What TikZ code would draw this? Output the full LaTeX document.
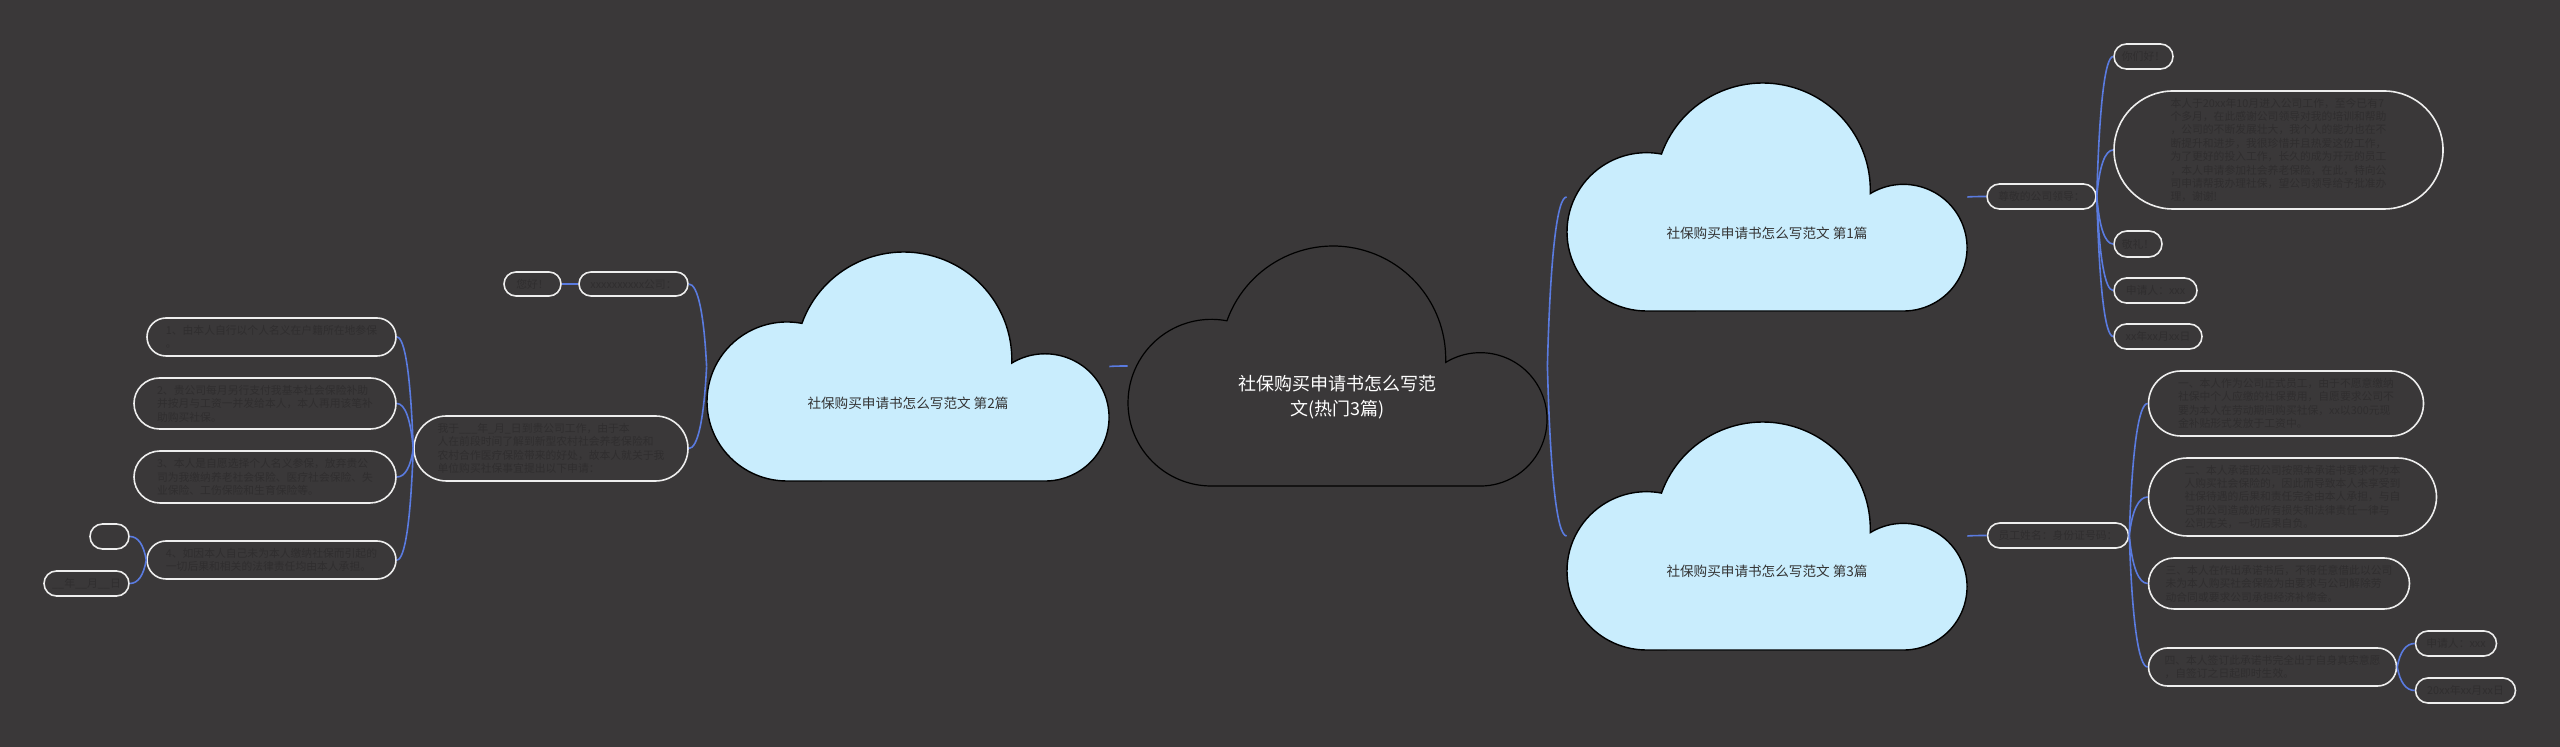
\documentclass[tikz,border=0pt]{standalone}
\usepackage{fontspec}
\setmainfont{Noto Sans CJK SC}
\usetikzlibrary{calc}
\definecolor{bg}{HTML}{3A3839}
\definecolor{cloudfill}{HTML}{C9EDFD}
\definecolor{branchc}{HTML}{5A7BE0}
\definecolor{faint}{HTML}{302E2F}
\definecolor{cloudtext}{HTML}{333333}
\definecolor{pillline}{HTML}{EEEEEE}
\newcommand{\pillfont}{\fontsize{5.4pt}{6.7pt}\selectfont}
\newcommand{\cloudfont}{\fontsize{6.8pt}{8pt}\selectfont}
\newcommand{\centerfont}{\fontsize{9pt}{12.5pt}\selectfont}
\newcommand{\cloudshape}[5]{%
  \pgfmathsetmacro{\cxs}{#3/1.7458}%
  \begin{scope}[shift={(#1,#2+#4)}, xscale=\cxs, yscale=-#4]
    \path[#5] (0.3472,0) arc[start angle=270, end angle=79.2, radius=0.3472]
      arc[start angle=160.36, end angle=-1.92, radius=0.4694]
      arc[start angle=121.4, end angle=-90, radius=0.2778] -- cycle;
  \end{scope}%
}
\newcommand{\branch}[2]{%
  \draw[branchline] let \p1=(#1), \p2=(#2) in (\p1) .. controls ({0.85*\x1+0.15*\x2},{0.35*\y1+0.65*\y2}) and ({0.5*\x1+0.5*\x2},\y2) .. (\p2);%
}
\tikzset{
  branchline/.style={draw=branchc, line width=0.8pt},
  pill/.style n args={2}{draw=pillline, line width=0.8pt, fill=bg, text=faint,
    minimum width=#1*0.5pt, minimum height=#2*0.5pt, rounded corners=#2*0.25pt,
    inner sep=0pt, font=\pillfont, align=left},
  cloudbox/.style n args={2}{minimum width=#1*0.5pt, minimum height=#2*0.5pt, inner sep=0pt},
  cloudlabel/.style={text=cloudtext, font=\cloudfont, inner sep=0pt},
  centertext/.style={text=white, font=\centerfont, align=center, inner sep=0pt},
  lightcloud/.style={fill=cloudfill, draw=black, line width=0.7pt},
  darkcloud/.style={fill=bg, draw=black, line width=0.6pt},
}
\begin{document}
\begin{tikzpicture}[x=0.5pt, y=-0.5pt]
\fill[bg] (0,0) rectangle (2560,747);
\useasboundingbox (0,0) rectangle (2560,747);

% clouds
\cloudshape{1128}{246}{419}{240}{darkcloud}
\node[cloudbox={419}{240}] (c0) at (1337.5,366) {};
\node[centertext] (c0t) at (1337.5,397) {社保购买申请书怎么写范\\文(热门3篇)};

\cloudshape{1567}{83}{400}{228}{lightcloud}
\node[cloudbox={400}{228}] (c1) at (1767,197) {};
\node[cloudlabel] (c1t) at (1767,233) {社保购买申请书怎么写范文 第1篇};

\cloudshape{707}{252}{402}{229}{lightcloud}
\node[cloudbox={402}{229}] (c2) at (908,366.5) {};
\node[cloudlabel] (c2t) at (908,403) {社保购买申请书怎么写范文 第2篇};

\cloudshape{1567}{422}{400}{228}{lightcloud}
\node[cloudbox={400}{228}] (c3) at (1767,536) {};
\node[cloudlabel] (c3t) at (1767,571) {社保购买申请书怎么写范文 第3篇};

% right top group
\node[pill={109}{25}] (p1) at (2041.5,196.5) {尊敬的公司领导：};
\node[pill={59}{25}] (p1a) at (2143.5,56.5) {你们好！};
\node[pill={329}{118}] (p1b) at (2278.5,150) {本人于20xx年10月进入公司工作，至今已有7\\个多月，在此感谢公司领导对我的培训和帮助\\，公司的不断发展壮大，我个人的能力也在不\\断提升和进步，我很珍惜并且热爱这份工作，\\为了更好的投入工作，长久的成为开元的员工\\，本人申请参加社会养老保险，在此，特向公\\司申请帮我办理社保，望公司领导给予批准办\\理，谢谢!};
\node[pill={48}{26}] (p1c) at (2138,244) {敬礼！};
\node[pill={83}{25}] (p1d) at (2155.5,290.5) {申请人：xxx};
\node[pill={88}{25}] (p1e) at (2158,336.5) {xx年xx月xx日};

% right bottom group
\node[pill={141}{25}] (p3) at (2058,535.5) {员工姓名：身份证号码：};
\node[pill={275}{65}] (p3a) at (2286,403.5) {一、本人作为公司正式员工，由于不愿意缴纳\\社保中个人应缴的社保费用，自愿要求公司不\\要为本人在劳动期间购买社保，xx以300元现\\金补贴形式发放于工资中。};
\node[pill={288}{78}] (p3b) at (2292.5,497) {二、本人承诺因公司按照本承诺书要求不为本\\人购买社会保险的，因此而导致本人未享受到\\社保待遇的后果和责任完全由本人承担，与自\\己和公司造成的所有损失和法律责任一律与\\公司无关，一切后果自负。};
\node[pill={261}{51}] (p3c) at (2279,583.5) {三、本人在作出承诺书后，不得任意借此以公司\\未为本人购买社会保险为由要求与公司解除劳\\动合同或要求公司承担经济补偿金。};
\node[pill={248}{38}] (p3d) at (2272.5,667) {四、本人签订此承诺书完全出于自身真实意愿\\，自签订之日起即时生效。};
\node[pill={81}{25}] (p3e) at (2456,643.5) {申请人：xxx};
\node[pill={100}{25}] (p3f) at (2465.5,690.5) {20xx年xx月xx日};

% left group
\node[pill={109}{24}] (p2a) at (633.5,284) {xxxxxxxxxx公司：};
\node[pill={57}{24}] (p2b) at (532.5,284) {您好！};
\node[pill={274}{65}] (p2c) at (551,448.5) {我于\_\_\_年\_月\_日到贵公司工作，由于本\\人在前段时间了解到新型农村社会养老保险和\\农村合作医疗保险带来的好处，故本人就关于我\\单位购买社保事宜提出以下申请：};
\node[pill={249}{38}] (p2c1) at (271.5,337) {1、由本人自行以个人名义在户籍所在地参保\\。};
\node[pill={262}{51}] (p2c2) at (265,403.5) {2、贵公司每月另行支付我基本社会保险补助\\并按月与工资一并发给本人，本人再用该笔补\\助购买社保。};
\node[pill={262}{52}] (p2c3) at (265,477) {3、本人是自愿选择个人名义参保，放弃贵公\\司为我缴纳养老社会保险、医疗社会保险、失\\业保险、工伤保险和生育保险等。};
\node[pill={249}{38}] (p2c4) at (271.5,560) {4、如因本人自己未为本人缴纳社保而引起的\\一切后果和相关的法律责任均由本人承担。};
\node[pill={39}{25}] (p2c4a) at (109.5,536.5) {};
\node[pill={85}{25}] (p2c4b) at (86.5,583.5) {\_\_年\_\_月\_\_日};

% connectors
\branch{c2.east}{c0.west}
\branch{c0.east}{c1.west}
\branch{c0.east}{c3.west}
\branch{c1.east}{p1.west}
\branch{p1.east}{p1a.west}
\branch{p1.east}{p1b.west}
\branch{p1.east}{p1c.west}
\branch{p1.east}{p1d.west}
\branch{p1.east}{p1e.west}
\branch{c3.east}{p3.west}
\branch{p3.east}{p3a.west}
\branch{p3.east}{p3b.west}
\branch{p3.east}{p3c.west}
\branch{p3.east}{p3d.west}
\branch{p3d.east}{p3e.west}
\branch{p3d.east}{p3f.west}
\branch{c2.west}{p2a.east}
\branch{c2.west}{p2c.east}
\branch{p2a.west}{p2b.east}
\branch{p2c.west}{p2c1.east}
\branch{p2c.west}{p2c2.east}
\branch{p2c.west}{p2c3.east}
\branch{p2c.west}{p2c4.east}
\branch{p2c4.west}{p2c4a.east}
\branch{p2c4.west}{p2c4b.east}
\end{tikzpicture}
\end{document}
